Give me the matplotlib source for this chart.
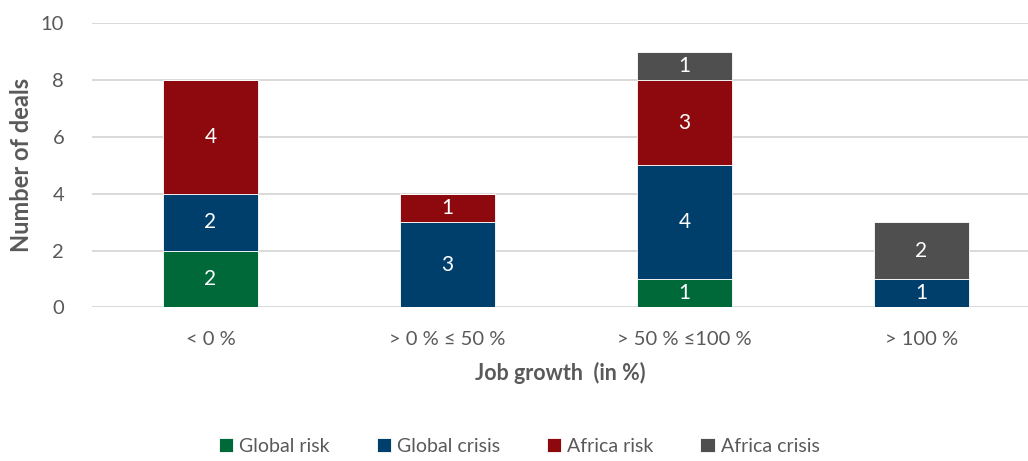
import numpy as np
import matplotlib.pyplot as plt

plt.rcParams['font.family'] = ['Lato', 'DejaVu Sans']

categories = ['< 0 %', '> 0 % ≤ 50 %', '> 50 % ≤100 %', '> 100 %']
series = ['Global risk', 'Global crisis', 'Africa risk', 'Africa crisis']
global_risk = [2, 0, 1, 0]
global_crisis = [2, 3, 4, 1]
africa_risk = [4, 1, 3, 0]
africa_crisis = [0, 0, 1, 2]

colors = ['#00693A', '#003F6B', '#8E090E', '#4F4F4F']
text_grey = '#595959'

fig = plt.figure(figsize=(10.28, 4.61), dpi=100)
ax = fig.add_axes([0.0895, 0.333, 0.9105, 0.6165])

x = np.arange(len(categories))
bottom = np.zeros(len(categories))
for name, vals, col in zip(series, [global_risk, global_crisis, africa_risk, africa_crisis], colors):
    vals = np.array(vals, dtype=float)
    ax.bar(x, vals, 0.40, bottom=bottom, color=col, label=name,
           edgecolor='white', linewidth=0.6, zorder=3)
    for xi, v, b in zip(x, vals, bottom):
        if v > 0:
            ax.text(xi, b + v / 2, f'{int(v)}', ha='center', va='center',
                    color='white', fontsize=15, zorder=4)
    bottom += vals

ax.set_xlim(-0.5, 3.45)
ax.set_ylim(0, 10)
ax.set_yticks(np.arange(0, 11, 2))
ax.set_xticks(x)
ax.set_xticklabels(categories)
ax.yaxis.grid(True, color='#D9D9D9', linewidth=1.4, zorder=0)
ax.set_axisbelow(True)
for s in ax.spines.values():
    s.set_visible(False)
ax.tick_params(length=0, labelsize=14.5, colors=text_grey)
ax.tick_params(axis='x', pad=17)
ax.tick_params(axis='y', pad=20)

ax.set_ylabel('Number of deals', fontsize=17, fontweight='bold', color=text_grey, labelpad=6)
ax.set_xlabel('Job growth  (in %)', fontsize=15.5, fontweight='bold', color=text_grey, labelpad=10)

fig.legend(loc='lower center', bbox_to_anchor=(0.505, -0.025), ncol=4, frameon=False,
           fontsize=14, handlelength=0.75, handleheight=0.75, handletextpad=0.3,
           columnspacing=2.4, labelcolor=text_grey)

fig.savefig('out.png', dpi=100)
